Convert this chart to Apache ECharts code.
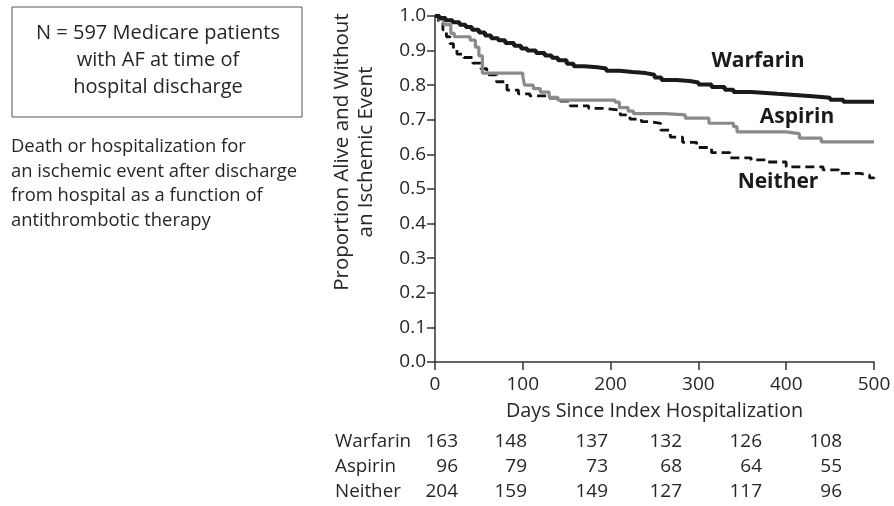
<!DOCTYPE html>
<html>
<head>
<meta charset="utf-8">
<script src="https://cdn.jsdelivr.net/npm/echarts@6/dist/echarts.min.js"></script>
<style>
html,body{margin:0;padding:0;background:#fff;}
#chart{width:894px;height:506px;}
</style>
</head>
<body>
<div id="chart"></div>
<script>
// ---- data ----
var warfarin = [[0,1.0],[5,0.994],[12,0.988],[20,0.982],[28,0.975],[35,0.968],[42,0.96],[50,0.952],[57,0.944],[64,0.936],[72,0.93],[80,0.922],[90,0.914],[98,0.906],[105,0.9],[115,0.893],[125,0.886],[133,0.879],[140,0.872],[150,0.862],[158,0.855],[170,0.852],[185,0.848],[195,0.842],[210,0.838],[225,0.835],[240,0.83],[250,0.822],[258,0.815],[275,0.812],[290,0.808],[300,0.802],[315,0.795],[330,0.787],[340,0.78],[360,0.775],[390,0.772],[410,0.768],[430,0.764],[450,0.758],[465,0.752],[500,0.75]];
var aspirin = [[0,1.0],[5,0.99],[10,0.975],[18,0.95],[22,0.94],[40,0.93],[46,0.91],[50,0.885],[54,0.835],[100,0.826],[102,0.80],[112,0.79],[120,0.78],[130,0.765],[140,0.757],[205,0.751],[210,0.735],[220,0.725],[226,0.718],[262,0.714],[285,0.705],[312,0.69],[340,0.68],[344,0.665],[400,0.66],[415,0.647],[440,0.636],[500,0.636]];
var neither = [[0,1.0],[4,0.98],[9,0.96],[13,0.94],[17,0.92],[21,0.905],[25,0.89],[33,0.88],[43,0.864],[52,0.848],[59,0.83],[70,0.81],[82,0.786],[95,0.775],[108,0.769],[129,0.763],[142,0.754],[154,0.74],[175,0.733],[191,0.728],[211,0.714],[222,0.702],[235,0.695],[245,0.69],[257,0.67],[268,0.65],[282,0.635],[298,0.62],[315,0.605],[336,0.59],[360,0.584],[378,0.578],[400,0.564],[427,0.564],[442,0.555],[460,0.545],[484,0.54],[495,0.532],[500,0.526]];

var seriesNames = ['Warfarin','Aspirin','Neither'];
var atRiskWarfarin = [163,148,137,132,126,108];
var atRiskAspirin = [96,79,73,68,64,55];
var atRiskNeither = [204,159,149,127,117,96];

var boxLines = ['N = 597 Medicare patients','with AF at time of','hospital discharge'];
var noteLines = ['Death or hospitalization for','an ischemic event after discharge','from hospital as a function of','antithrombotic therapy'];
var xTitle = 'Days Since Index Hospitalization';
var yTitle = ['Proportion Alive and Without','an Ischemic Event'];

// ---- layout helpers ----
var FONT = '"Open Sans", "DejaVu Sans", sans-serif';
var TXT = '#262626';
var colRight = [458,527,608,682,762,842];
var rowY = [442,467,492];
var tables = [atRiskWarfarin, atRiskAspirin, atRiskNeither];

var graphics = [];
// box
graphics.push({type:'rect', shape:{x:12,y:7,width:290,height:110}, style:{fill:'none', stroke:'#555', lineWidth:1}});
boxLines.forEach(function(t,i){
  graphics.push({type:'text', x:158, y:33+i*27, style:{text:t, font:'20px '+FONT, fill:TXT, textAlign:'center', textVerticalAlign:'middle'}});
});
noteLines.forEach(function(t,i){
  graphics.push({type:'text', x:11, y:147+i*24.5, style:{text:t, font:'18.4px '+FONT, fill:TXT, textAlign:'left', textVerticalAlign:'middle'}});
});
// y title
yTitle.forEach(function(t,i){
  graphics.push({type:'text', x:342+i*24, y:152, rotation:Math.PI/2, style:{text:t, font:'20.5px '+FONT, fill:TXT, textAlign:'center', textVerticalAlign:'middle'}});
});
// series labels
var seriesLabelPos = [[758,61],[797,117],[778,182]];
seriesNames.forEach(function(n,i){
  graphics.push({type:'text', x:seriesLabelPos[i][0], y:seriesLabelPos[i][1], style:{text:n, font:'bold 21px '+FONT, fill:'#1a1a1a', textAlign:'center', textVerticalAlign:'middle'}});
});
// at-risk table
seriesNames.forEach(function(n,r){
  graphics.push({type:'text', x:335, y:rowY[r], style:{text:n, font:'18.8px '+FONT, fill:TXT, textAlign:'left', textVerticalAlign:'middle'}});
  tables[r].forEach(function(v,c){
    graphics.push({type:'text', x:colRight[c], y:rowY[r], style:{text:String(v), font:'19px '+FONT, fill:TXT, textAlign:'right', textVerticalAlign:'middle'}});
  });
});

var chart = echarts.init(document.getElementById('chart'), null, {renderer:'canvas'});
chart.setOption({
  animation:false,
  backgroundColor:'#fff',
  textStyle:{fontFamily:FONT},
  grid:{left:435, right:20, top:16, bottom:144, containLabel:false},
  xAxis:{
    type:'value', min:0, max:500, interval:100,
    name:xTitle, nameLocation:'middle', nameGap:39,
    nameTextStyle:{fontSize:19.8, color:TXT, fontFamily:FONT},
    axisLine:{lineStyle:{color:'#333', width:1.5}},
    axisTick:{show:true, length:8, lineStyle:{color:'#333', width:1.5}},
    axisLabel:{fontSize:19, color:TXT, margin:13, fontFamily:FONT},
    splitLine:{show:false}
  },
  yAxis:{
    type:'value', min:0, max:1, interval:0.1,
    axisLine:{show:true, lineStyle:{color:'#333', width:1.5}},
    axisTick:{show:true, length:8, lineStyle:{color:'#333', width:1.5}},
    axisLabel:{fontSize:19, color:TXT, margin:9, fontFamily:FONT, formatter:function(v){return v.toFixed(1);}},
    splitLine:{show:false}
  },
  series:[
    {name:seriesNames[0], type:'line', step:'end', data:warfarin, showSymbol:false, lineStyle:{color:'#1a1a1a', width:4}, z:4},
    {name:seriesNames[1], type:'line', step:'end', data:aspirin, showSymbol:false, lineStyle:{color:'#8a8a8a', width:3.2}, z:3},
    {name:seriesNames[2], type:'line', step:'end', data:neither, showSymbol:false, lineStyle:{color:'#111', width:2.8, type:[9,5]}, z:2}
  ],
  graphic:graphics
});
</script>
</body>
</html>
